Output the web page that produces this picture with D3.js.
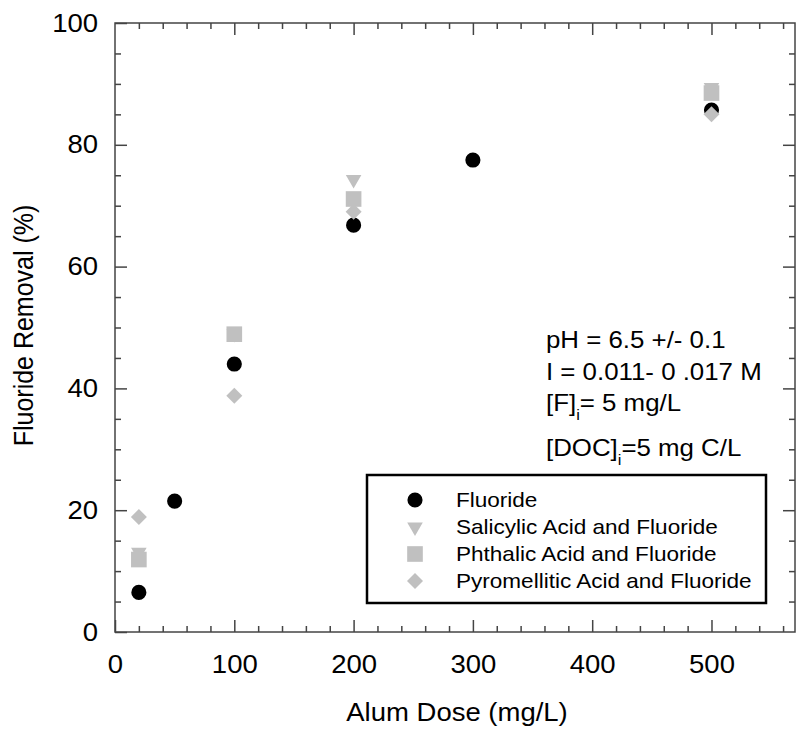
<!DOCTYPE html>
<html>
<head>
<meta charset="utf-8">
<script src="https://cdn.jsdelivr.net/npm/d3@7"></script>
<style>
  html, body { margin: 0; padding: 0; background: #fff; }
  svg text { font-family: "Liberation Sans", Arial, sans-serif; fill: #000; }
</style>
</head>
<body>
<svg id="chart" width="796" height="729"></svg>
<script>
// ---- data ----
const fluorideDoses = [20, 50, 100, 200, 300, 500];
const fluorideOnly = [6.5, 21.5, 44, 66.8, 77.5, 85.7];
const acidDoses = [20, 100, 200, 500];
const salicylic = [13.1, 49, 74.3, 89.4];
const phthalic = [11.9, 48.9, 71.1, 88.5];
const pyromellitic = [18.9, 38.8, 69.0, 85.0];

const xMajorTicks = [0, 100, 200, 300, 400, 500];
const yMajorTicks = [0, 20, 40, 60, 80, 100];
const legendLabels = ["Fluoride", "Salicylic Acid and Fluoride", "Phthalic Acid and Fluoride", "Pyromellitic Acid and Fluoride"];

// ---- layout ----
const SX = 1.1; // horizontal text stretch seen in the reference
const svg = d3.select("#chart");
const L = 115, R = 795, T = 23, B = 632;
const x = d3.scaleLinear().domain([0, 570]).range([L, R]);
const y = d3.scaleLinear().domain([0, 100]).range([B, T]);

const xMinor = d3.range(0, 570, 20).filter(v => v % 100 !== 0);
const yMinor = d3.range(0, 100, 5).filter(v => v % 20 !== 0);

const axisColor = "#444";
function styleAxis(g) {
  g.select(".domain").remove();
  g.selectAll(".tick line").attr("stroke", axisColor).attr("stroke-width", 1.5);
  g.selectAll(".tick text").attr("font-size", 25).attr("fill", "#000")
    .attr("transform", `scale(${SX},1)`);
}

// bottom
svg.append("g").attr("transform", `translate(0,${B})`)
  .call(d3.axisBottom(x).tickValues(xMajorTicks).tickSize(-12).tickSizeOuter(0).tickPadding(23).tickFormat(d3.format("d")))
  .call(styleAxis);
svg.append("g").attr("transform", `translate(0,${B})`)
  .call(d3.axisBottom(x).tickValues(xMinor).tickSize(-6).tickSizeOuter(0).tickFormat(""))
  .call(styleAxis);
// top
svg.append("g").attr("transform", `translate(0,${T})`)
  .call(d3.axisTop(x).tickValues(xMajorTicks.filter(v => v > 0)).tickSize(-12).tickSizeOuter(0).tickFormat(""))
  .call(styleAxis);
svg.append("g").attr("transform", `translate(0,${T})`)
  .call(d3.axisTop(x).tickValues(xMinor).tickSize(-6).tickSizeOuter(0).tickFormat(""))
  .call(styleAxis);
// left
svg.append("g").attr("transform", `translate(${L},0)`)
  .call(d3.axisLeft(y).tickValues(yMajorTicks).tickSize(-12).tickSizeOuter(0).tickPadding(17 / SX).tickFormat(d3.format("d")))
  .call(styleAxis);
svg.append("g").attr("transform", `translate(${L},0)`)
  .call(d3.axisLeft(y).tickValues(yMinor).tickSize(-6).tickSizeOuter(0).tickFormat(""))
  .call(styleAxis);
// right
svg.append("g").attr("transform", `translate(${R},0)`)
  .call(d3.axisRight(y).tickValues(yMajorTicks.filter(v => v > 0 && v < 100)).tickSize(-12).tickSizeOuter(0).tickFormat(""))
  .call(styleAxis);
svg.append("g").attr("transform", `translate(${R},0)`)
  .call(d3.axisRight(y).tickValues(yMinor).tickSize(-6).tickSizeOuter(0).tickFormat(""))
  .call(styleAxis);

// frame
svg.append("rect").attr("x", L).attr("y", T).attr("width", R - L).attr("height", B - T)
  .attr("fill", "none").attr("stroke", axisColor).attr("stroke-width", 1.5);

// helper: stretched text placed at (px,py)
function stext(parent, px, py, size, extra = "") {
  return parent.append("text")
    .attr("transform", `translate(${px},${py}) scale(${SX},1) ${extra}`)
    .attr("font-size", size);
}

// axis titles
stext(svg, 457, 721, 25).attr("text-anchor", "middle").text("Alum Dose (mg/L)");
stext(svg, 33, (T + B) / 2 - 2, 25, "rotate(-90)").attr("text-anchor", "middle").text("Fluoride Removal (%)");

// ---- symbols ----
const gray = "#c0c0c0";
const sym = {
  circle: { path: d3.symbol().type(d3.symbolCircle).size(180)(), rot: 0, fill: "#000" },
  tri: { path: d3.symbol().type(d3.symbolTriangle).size(105)(), rot: 180, fill: gray },
  square: { path: d3.symbol().type(d3.symbolSquare).size(245)(), rot: 0, fill: gray },
  diamond: { path: d3.symbol().type(d3.symbolSquare).size(128)(), rot: 45, fill: gray }
};
const seriesList = [
  { xs: fluorideDoses, ys: fluorideOnly, s: sym.circle },
  { xs: acidDoses, ys: salicylic, s: sym.tri },
  { xs: acidDoses, ys: phthalic, s: sym.square },
  { xs: acidDoses, ys: pyromellitic, s: sym.diamond }
];
seriesList.forEach(ser => {
  svg.append("g").selectAll("path").data(ser.xs.map((d, i) => [d, ser.ys[i]])).join("path")
    .attr("d", ser.s.path)
    .attr("fill", ser.s.fill)
    .attr("transform", d => `translate(${x(d[0])},${y(d[1])}) rotate(${ser.s.rot})`);
});

// ---- annotation ----
const ann = svg.append("g");
const ax = 546, af = 23.5;
stext(ann, ax, 348, af).text("pH = 6.5 +/- 0.1");
stext(ann, ax, 380, af).text("I = 0.011- 0 .017 M");
const t3 = stext(ann, ax, 411, af);
t3.append("tspan").text("[F]");
t3.append("tspan").attr("font-size", 15).attr("dy", 9).text("i");
t3.append("tspan").attr("dy", -9).text("= 5 mg/L");
const t4 = stext(ann, ax, 456, af);
t4.append("tspan").text("[DOC]");
t4.append("tspan").attr("font-size", 15).attr("dy", 9).text("i");
t4.append("tspan").attr("dy", -9).text("=5 mg C/L");

// ---- legend ----
const lg = svg.append("g");
lg.append("rect").attr("x", 367).attr("y", 475).attr("width", 399).attr("height", 128)
  .attr("fill", "#fff").attr("stroke", "#000").attr("stroke-width", 2.5);
const legSyms = [sym.circle, sym.tri, sym.square, sym.diamond];
legendLabels.forEach((lab, i) => {
  const cy = 500 + i * 27;
  lg.append("path").attr("d", legSyms[i].path).attr("fill", legSyms[i].fill)
    .attr("transform", `translate(415,${cy}) rotate(${legSyms[i].rot})`);
  stext(lg, 456, cy, 20.5).attr("dy", "0.36em").text(lab);
});
</script>
</body>
</html>
